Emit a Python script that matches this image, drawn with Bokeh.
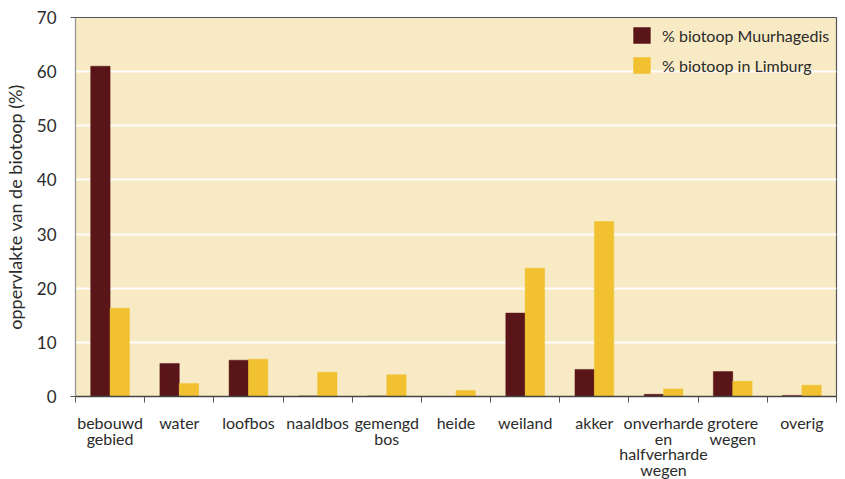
from bokeh.plotting import figure
from bokeh.models import Range1d, FixedTicker, Legend, LegendItem, ColumnDataSource
from bokeh.layouts import column
from bokeh.core.properties import value
from bokeh.embed import file_html
from bokeh.resources import INLINE

# Biotope categories (multi-line labels as printed under the axis)
categories = [
    "bebouwd\ngebied", "water", "loofbos", "naaldbos", "gemengd\nbos", "heide",
    "weiland", "akker", "onverharde\nen\nhalfverharde\nwegen", "grotere\nwegen", "overig",
]
# Share of each biotope (%)
muurhagedis = [61.0, 6.1, 6.7, 0.1, 0.1, 0.0, 15.4, 5.0, 0.4, 4.6, 0.2]
limburg = [16.3, 2.4, 6.9, 4.5, 4.0, 1.1, 23.7, 32.3, 1.4, 2.8, 2.1]

y_ticks = [0, 10, 20, 30, 40, 50, 60, 70]
series_names = ["% biotoop Muurhagedis", "% biotoop in Limburg"]

MAROON = "#5a1518"
GOLD = "#f1c130"
CREAM = "#f8eac4"
INK = "#2b2b2b"
FONT = "Lato"

n = len(categories)
xs = list(range(n))

W = 845
TOP_H = 408          # chart panel (frame 17..396 plus room for ticks and the "0" label)
LABEL_H = 479 - TOP_H
BORDER_L, BORDER_R = 72, 9

x_range = Range1d(-0.5, n - 0.5)

p = figure(
    width=W, height=TOP_H,
    x_range=x_range, y_range=Range1d(0, 70),
    output_backend="svg", toolbar_location=None,
    min_border_left=BORDER_L, min_border_right=BORDER_R,
    min_border_top=17, min_border_bottom=12,
)
p.background_fill_color = CREAM
p.border_fill_color = "white"
p.outline_line_color = "#555555"
p.outline_line_width = 1.2

w = 0.28
r1 = p.vbar(x=[x - 0.14 for x in xs], top=muurhagedis, width=w,
            fill_color=MAROON, line_color=MAROON, line_width=0.5)
r2 = p.vbar(x=[x + 0.14 for x in xs], top=limburg, width=w,
            fill_color=GOLD, line_color=GOLD, line_width=0.5)

# grid
p.xgrid.grid_line_color = None
p.ygrid.ticker = FixedTicker(ticks=y_ticks)
p.ygrid.grid_line_color = "white"
p.ygrid.grid_line_width = 2
p.ygrid.grid_line_alpha = 0.95

# x axis: just the line and the ticks at category boundaries
xa = p.xaxis[0]
xa.ticker = FixedTicker(ticks=[], minor_ticks=[i - 0.5 for i in range(n + 1)])
xa.major_tick_out = 0
xa.major_tick_in = 0
xa.major_label_standoff = 0
xa.minor_tick_out = 6
xa.minor_tick_in = 0
xa.minor_tick_line_color = "#555555"
xa.axis_line_color = "#444444"
xa.axis_line_width = 1.5

# y axis
ya = p.yaxis[0]
ya.ticker = FixedTicker(ticks=y_ticks, minor_ticks=[0, 70])
ya.major_tick_line_color = None
ya.major_tick_out = 0
ya.major_tick_in = 0
ya.minor_tick_out = 5
ya.minor_tick_in = 0
ya.minor_tick_line_color = "#555555"
ya.axis_line_color = "#999999"
ya.axis_line_width = 1
ya.major_label_text_font = FONT
ya.major_label_text_font_size = "17px"
ya.major_label_text_color = INK
ya.major_label_standoff = 14
ya.axis_label = "oppervlakte van de biotoop (%)"
ya.axis_label_text_font = FONT
ya.axis_label_text_font_size = "18px"
ya.axis_label_text_font_style = "normal"
ya.axis_label_text_color = INK
ya.axis_label_standoff = 8

legend = Legend(
    items=[LegendItem(label=series_names[0], renderers=[r1]),
           LegendItem(label=series_names[1], renderers=[r2])],
    location=(556, 321),
    padding=0, margin=0, spacing=10,
    glyph_width=21, glyph_height=20, label_height=20, label_standoff=10,
    label_text_font=FONT, label_text_font_size="16px", label_text_color=INK,
    background_fill_alpha=0, border_line_color=None,
)
p.add_layout(legend)

# category names in a strip under the chart, sharing its x scale
lab = figure(
    width=W, height=LABEL_H,
    x_range=x_range, y_range=Range1d(0, LABEL_H),
    output_backend="svg", toolbar_location=None,
    min_border_left=BORDER_L, min_border_right=BORDER_R,
    min_border_top=0, min_border_bottom=0,
)
lab.axis.visible = False
lab.grid.visible = False
lab.outline_line_color = None
lab.background_fill_color = "white"
lab.border_fill_color = "white"

first_baseline = 14   # px below the strip's top edge
line_step = 15.5
tx, ty, tt = [], [], []
for i, name in enumerate(categories):
    for k, line in enumerate(name.split("\n")):
        tx.append(i)
        ty.append(LABEL_H - first_baseline - k * line_step)
        tt.append(line)
lab.text(x="x", y="y", text="text", source=ColumnDataSource(dict(x=tx, y=ty, text=tt)),
         text_align="center", text_baseline="alphabetic",
         text_font=value(FONT), text_font_size="16px", text_color=INK)

open("out.html", "w").write(file_html(column(p, lab, spacing=0), INLINE))
